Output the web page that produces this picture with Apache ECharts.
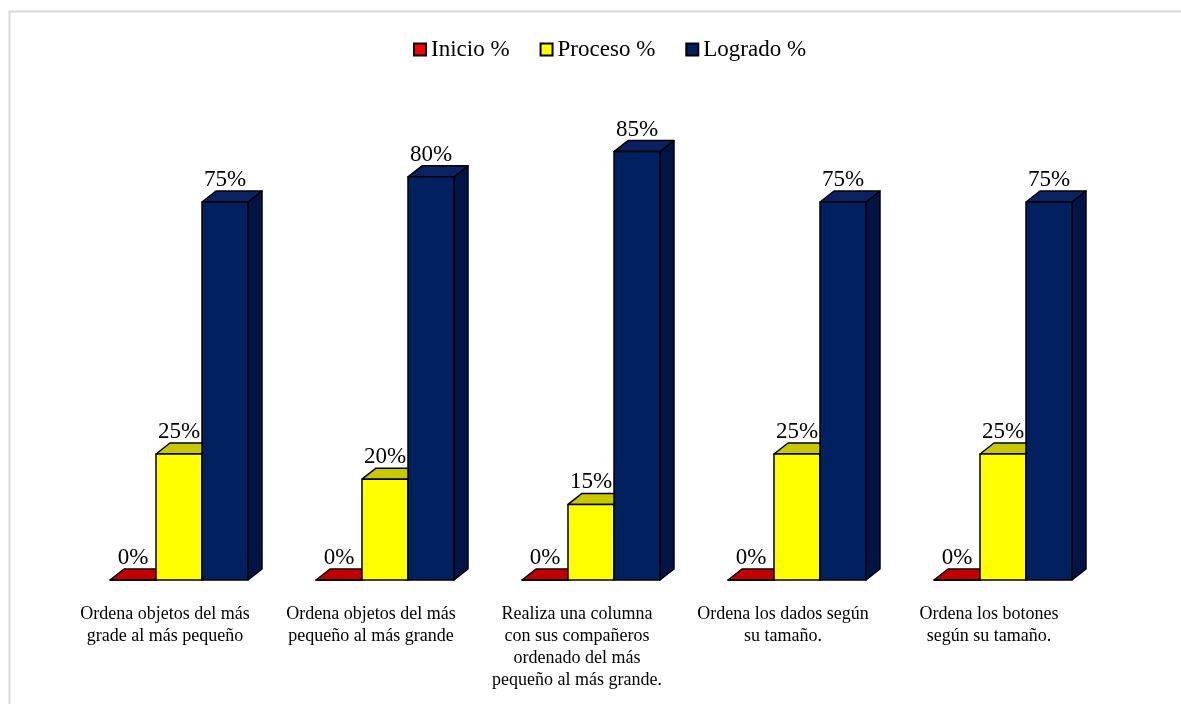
<!DOCTYPE html>
<html>
<head>
<meta charset="utf-8">
<script src="https://cdn.jsdelivr.net/npm/echarts@6/dist/echarts.min.js"></script>
<style>html,body{margin:0;padding:0;background:#fff;}#c{width:1181px;height:704px;}</style>
</head>
<body>
<div id="c"></div>
<script>
const categories = [
  'Ordena objetos del más\ngrade al más pequeño',
  'Ordena objetos del más\npequeño al más grande',
  'Realiza una columna\ncon sus compañeros\nordenado del más\npequeño al más grande.',
  'Ordena los dados según\nsu tamaño.',
  'Ordena los botones\nsegún su tamaño.'
];
const seriesNames = ['Inicio %', 'Proceso %', 'Logrado %'];
const inicio = [0, 0, 0, 0, 0];
const proceso = [25, 20, 15, 25, 25];
const logrado = [75, 80, 85, 75, 75];

const FONT = '"Liberation Serif", "Times New Roman", serif';
const palette = [
  { front: '#ff0000', top: '#c00000', side: '#a00000' },
  { front: '#ffff00', top: '#c8c800', side: '#a8a800' },
  { front: '#002060', top: '#0a2262', side: '#001545' }
];
const DX = 14, DY = 11;

function makeRender(si) {
  return function (params, api) {
    const idx = api.value(0);
    const val = api.value(1);
    const pt = api.coord([idx, val]);
    const base = api.coord([idx, 0])[1];
    const band = api.size([1, 0])[0];
    const w = band * 46 / 206;
    const cx = pt[0] + (si - 1) * w;
    const x0 = cx - w / 2;
    const yv = pt[1];
    const c = palette[si];
    const stroke = { stroke: '#000', lineWidth: 1.5, lineJoin: 'round' };
    const children = [
      { type: 'polygon', shape: { points: [[x0 + w, yv], [x0 + w + DX, yv - DY], [x0 + w + DX, base - DY], [x0 + w, base]] },
        style: Object.assign({ fill: c.side }, stroke) },
      { type: 'polygon', shape: { points: [[x0, yv], [x0 + DX, yv - DY], [x0 + w + DX, yv - DY], [x0 + w, yv]] },
        style: Object.assign({ fill: c.top }, stroke) },
      { type: 'rect', shape: { x: x0, y: yv, width: w, height: base - yv },
        style: Object.assign({ fill: c.front }, stroke) },
      { type: 'text', x: cx, y: yv - 22,
        style: { text: val + '%', font: '23px ' + FONT, fill: '#000', align: 'center', verticalAlign: 'middle' } }
    ];
    return { type: 'group', children: children };
  };
}

const dataSets = [inicio, proceso, logrado];
const series = dataSets.map((arr, si) => ({
  type: 'custom',
  name: seriesNames[si],
  renderItem: makeRender(si),
  itemStyle: { color: palette[si].front, borderColor: '#000', borderWidth: 1 },
  encode: { x: 0, y: 1 },
  data: arr.map((v, i) => [i, v]),
  clip: false
}));

const chart = echarts.init(document.getElementById('c'), null, { renderer: 'canvas' });
chart.setOption({
  animation: false,
  backgroundColor: '#fff',
  graphic: [{
    type: 'rect', left: 7, top: 9, shape: { x: 0, y: 0, width: 1200, height: 720 },
    style: { fill: 'none', stroke: '#d9d9d9', lineWidth: 2 }, silent: true
  }],
  legend: {
    top: 33, left: 408,
    itemWidth: 12, itemHeight: 12, itemGap: 30,
    icon: 'rect',
    textStyle: { fontFamily: FONT, fontSize: 23, color: '#000' },
    data: seriesNames
  },
  grid: { left: 76, right: 75, top: 76, bottom: 124 },
  xAxis: {
    type: 'category', data: categories,
    axisLine: { show: false }, axisTick: { show: false },
    axisLabel: { interval: 0, fontFamily: FONT, fontSize: 18, color: '#000', lineHeight: 22, margin: 23, padding: [0, 28, 0, 0] }
  },
  yAxis: { type: 'value', min: 0, max: 100, show: false, splitLine: { show: false } },
  series: series
});
</script>
</body>
</html>
